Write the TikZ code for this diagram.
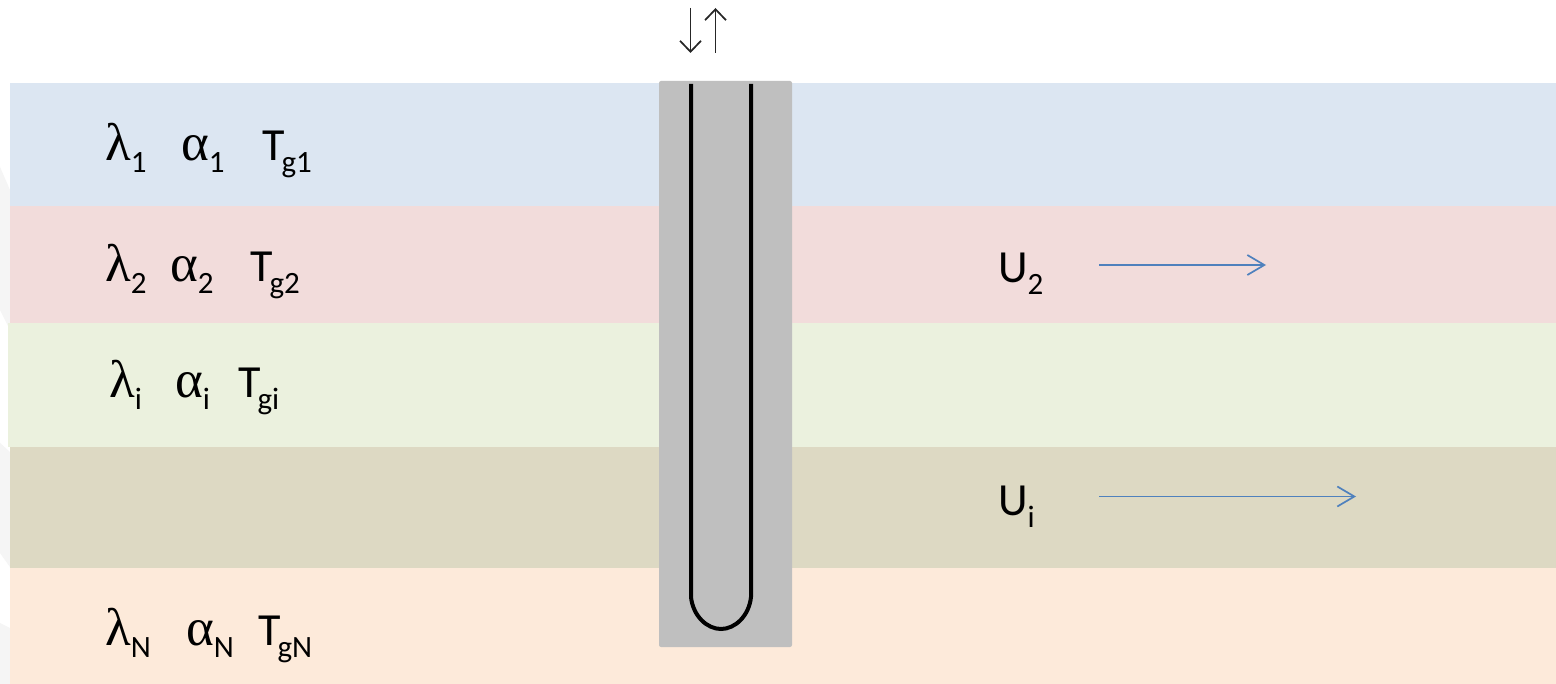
\documentclass[tikz,border=0pt]{standalone}
\usepackage{fontspec}
\setmainfont{Carlito}
\newfontfamily\grk{Liberation Serif}
\usetikzlibrary{arrows.meta}
\newcommand{\symb}[2]{{\fontsize{46}{46}\selectfont #1}\kern-3pt\raisebox{-12pt}{\fontsize{31}{31}\selectfont #2}}
\newcommand{\usym}[2]{{\fontsize{46}{46}\selectfont #1}\raisebox{-12pt}{\fontsize{31}{31}\selectfont #2}}
\newcommand{\grsym}[2]{{\fontsize{53}{53}\selectfont\grk #1}\raisebox{-12pt}{\fontsize{31}{31}\selectfont #2}}
\definecolor{flowblue}{HTML}{4F81BD}
\definecolor{la}{HTML}{DCE6F2}
\definecolor{lb}{HTML}{F2DCDB}
\definecolor{lc}{HTML}{EBF1DE}
\definecolor{ld}{HTML}{DDD9C3}
\definecolor{le}{HTML}{FDEADA}
\tikzset{
  layer/.style={draw=none,inner sep=0pt,minimum width=1546pt,anchor=north west},
  lab/.style={inner sep=0pt,anchor=base west,text=black},
  tube/.style={line width=4pt,black},
  pipearrow/.style={line width=1.7pt,black!85,-{Straight Barb[length=11pt,width=21pt,line width=1.7pt]}},
  flow/.style={line width=1.7pt,color=flowblue,-{Straight Barb[length=17pt,width=20pt,line width=1.7pt]}}
}
\begin{document}
\begin{tikzpicture}[x=1pt,y=-1pt]
\useasboundingbox (0,0) rectangle (1556,684);
\fill[white] (0,0) rectangle (1556,684);
% faint shadow slices at the left margin
\fill[black!4] (0,167) -- (10,190) -- (10,330) -- (0,310) -- cycle;
\fill[black!4] (0,443) -- (10,452) -- (10,567) -- (0,553) -- cycle;
\fill[black!4] (0,623) -- (10,628) -- (10,684) -- (0,684) -- cycle;
% layers
\node[layer,fill=la,minimum height=123pt] (L1) at (10,83) {};
\node[layer,fill=lb,minimum height=117pt] (L2) at (10,206) {};
\node[layer,fill=lc,minimum height=124pt,minimum width=1548pt] (L3) at (8,323) {};
\node[layer,fill=ld,minimum height=121pt] (L4) at (10,447) {};
\node[layer,fill=le,minimum height=116pt] (L5) at (10,568) {};
% borehole
\fill[fill=black!25,rounded corners=2pt] (659,81) rectangle (792,647);
\coordinate (tl) at (691,84);
\coordinate (tr) at (751,84);
\coordinate (bl) at (691,597);
\coordinate (br) at (751,597);
\draw[tube] (tl) -- (bl) .. controls (693,616) and (707,629) .. (721,629) .. controls (735,629) and (749,616) .. (br) -- (tr);
% pipe arrows
\coordinate (d1) at (690.5,8);
\coordinate (d2) at (690.5,53);
\coordinate (u1) at (715.5,53);
\coordinate (u2) at (715.5,8);
\draw[pipearrow] (d1) -- (d2);
\draw[pipearrow] (u1) -- (u2);
% labels
\node[lab] (a1) at (105,161) {\grsym{λ}{1}};
\node[lab] (b1) at (181,161) {\grsym{α}{1}};
\node[lab] (c1) at (262,161) {\symb{T}{g1}};
\node[lab] (a2) at (105,282) {\grsym{λ}{2}};
\node[lab] (b2) at (170,282) {\grsym{α}{2}};
\node[lab] (c2) at (250,282) {\symb{T}{g2}};
\node[lab] (a3) at (109,398) {\grsym{λ}{i}};
\node[lab] (b3) at (175,398) {\grsym{α}{i}};
\node[lab] (c3) at (238,398) {\symb{T}{gi}};
\node[lab] (a4) at (105,645) {\grsym{λ}{N}};
\node[lab] (b4) at (186,645) {\grsym{α}{N}};
\node[lab] (c4) at (258,645) {\symb{T}{gN}};
\node[lab] (u2lab) at (998,283) {\usym{U}{2}};
\node[lab] (uilab) at (998,515) {\usym{U}{i}};
% flow arrows
\coordinate (f1a) at (1099,265);
\coordinate (f1b) at (1266,265);
\coordinate (f2a) at (1099,496.5);
\coordinate (f2b) at (1356,496.5);
\draw[flow] (f1a) -- (f1b);
\draw[flow] (f2a) -- (f2b);
\end{tikzpicture}
\end{document}
